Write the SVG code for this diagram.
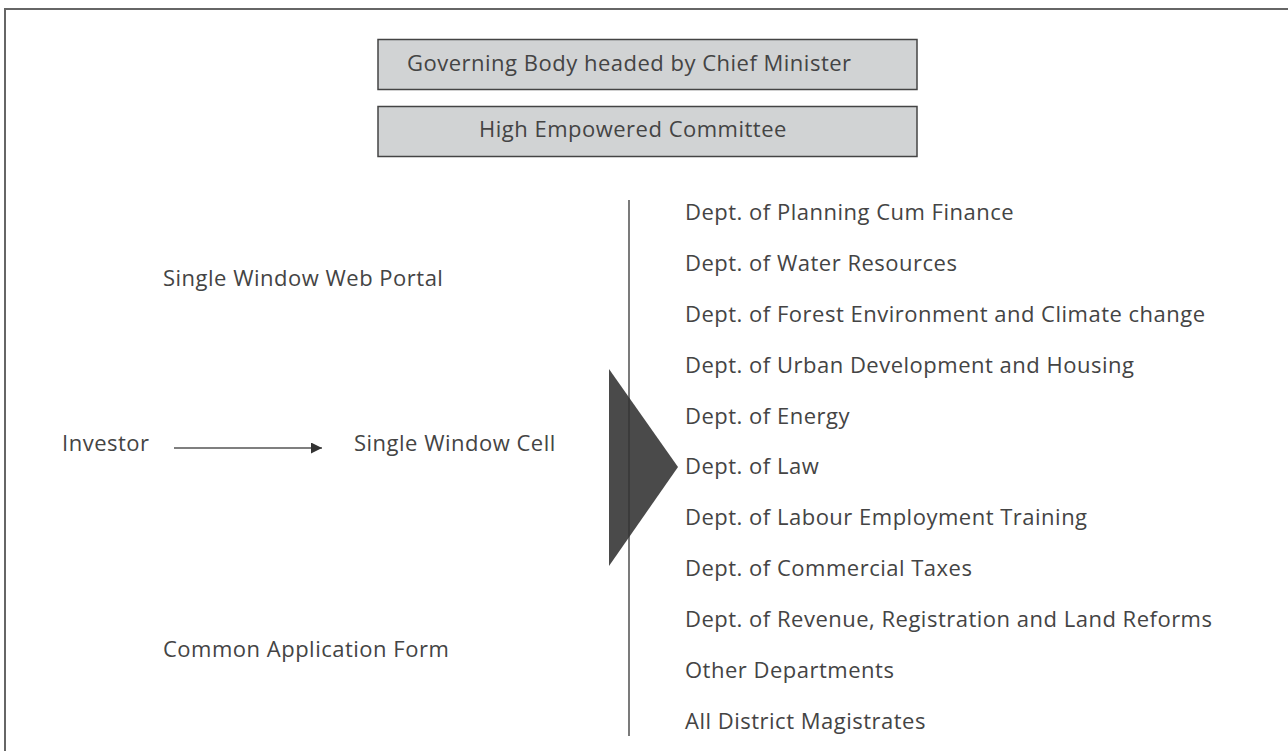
<svg xmlns="http://www.w3.org/2000/svg" width="1288" height="751" viewBox="0 0 1288 751">
<defs>
<style>
text{font-family:"Open Sans","Noto Sans","Liberation Sans",sans-serif;font-size:22px;letter-spacing:0.5px;fill:#444;}
.box{fill:#d1d3d4;stroke:#444;stroke-width:1.5;}
.conn{stroke:#555;stroke-width:1.5;fill:none;}
</style>
<marker id="arr" viewBox="0 0 10 10" refX="10" refY="5" markerWidth="17" markerHeight="11" markerUnits="userSpaceOnUse" orient="auto"><path d="M0,0 L10,5 L0,10 Z" fill="#333"/></marker>
</defs>
<rect x="0" y="0" width="1288" height="751" fill="#fff"/>
<rect x="5" y="9" width="1300" height="800" fill="none" stroke="#666" stroke-width="2"/>
<g id="governing"><rect class="box" x="378" y="39.5" width="539" height="50"/><text x="407" y="71">Governing Body headed by Chief Minister</text></g>
<g id="hec"><rect class="box" x="378" y="106.5" width="539" height="50"/><text x="479" y="137">High Empowered Committee</text></g>
<g id="portal"><text x="163" y="286">Single Window Web Portal</text></g>
<g id="investor"><text x="62" y="451">Investor</text></g>
<g id="cell"><text x="354" y="451">Single Window Cell</text></g>
<g id="caf"><text x="163" y="657">Common Application Form</text></g>
<g id="fan"><polygon points="609,369 678,467 609,566" fill="#4a4a4a"/></g>
<g id="connectors">
<line class="conn" x1="174" y1="448" x2="322" y2="448" marker-end="url(#arr)"/>
<line x1="629" y1="200" x2="629" y2="736" stroke="#333" stroke-width="1.3"/>
</g>
<g id="depts">
<text x="685" y="220">Dept. of Planning Cum Finance</text>
<text x="685" y="271">Dept. of Water Resources</text>
<text x="685" y="322">Dept. of Forest Environment and Climate change</text>
<text x="685" y="373">Dept. of Urban Development and Housing</text>
<text x="685" y="424">Dept. of Energy</text>
<text x="685" y="474">Dept. of Law</text>
<text x="685" y="525">Dept. of Labour Employment Training</text>
<text x="685" y="576">Dept. of Commercial Taxes</text>
<text x="685" y="627">Dept. of Revenue, Registration and Land Reforms</text>
<text x="685" y="678">Other Departments</text>
<text x="685" y="729">All District Magistrates</text>
</g>
</svg>
